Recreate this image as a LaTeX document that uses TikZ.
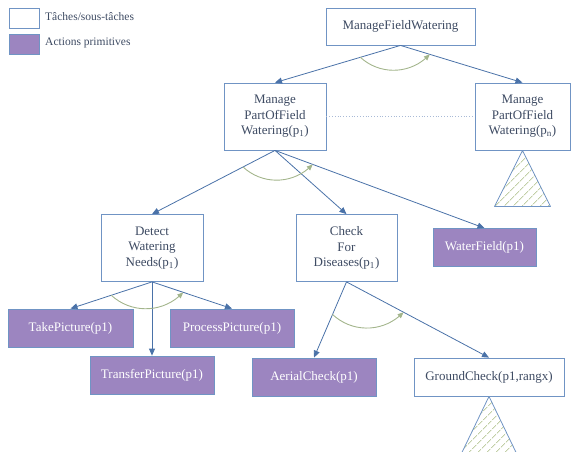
\documentclass[tikz,border=0pt]{standalone}
\usepackage{fontspec}
\setmainfont{Liberation Serif}
\usetikzlibrary{arrows.meta,patterns.meta,bending}
\definecolor{edgeblue}{HTML}{4A72A8}
\definecolor{boxline}{HTML}{7094C4}
\definecolor{primfill}{HTML}{9C85C0}
\definecolor{textdark}{HTML}{3E4B63}
\definecolor{arcgreen}{HTML}{A3B58C}
\definecolor{hatchgreen}{HTML}{C2CFA6}
\definecolor{dotline}{HTML}{A9BAD6}
\tikzset{
  task/.style={draw=boxline, fill=white, text=textdark, line width=0.8pt,
    align=center, inner sep=0pt, font=\fontsize{13}{15.5}\selectfont},
  prim/.style={draw=boxline, fill=primfill, text=white, line width=0.8pt,
    align=center, inner sep=0pt, font=\fontsize{13}{15.5}\selectfont},
  link/.style={draw=edgeblue, line width=0.8pt, -{Triangle[length=7pt,width=6pt]}},
  order/.style={draw=arcgreen, line width=0.9pt, bend right=45,
    -{Triangle[length=6pt,width=5pt,bend]}},
  legtext/.style={text=textdark, anchor=west, inner sep=0pt,
    font=\fontsize{11.5}{13}\selectfont},
  hatch/.style={pattern={Lines[angle=45,distance=6.5pt,line width=0.9pt]},
    pattern color=hatchgreen},
  subtree/.style={draw=boxline, line width=0.8pt, line join=round},
}
\begin{document}
\begin{tikzpicture}[x=1pt,y=-1pt]
\useasboundingbox (0,0) rectangle (571,451);

% legend
\node[task, minimum width=30pt, minimum height=20pt] (legT) at (24,18) {};
\node[legtext] (legTt) at (45,17) {Tâches/sous-tâches};
\node[prim, minimum width=30pt, minimum height=20pt] (legP) at (24,44) {};
\node[legtext] (legPt) at (45,43) {Actions primitives};

% tasks and sub-tasks
\node[task, minimum width=149pt, minimum height=37pt] (mfw) at (400.5,26.5) {ManageFieldWatering};
\node[task, minimum width=102pt, minimum height=67pt] (mp1) at (275,116.5)
  {Manage\\PartOfField\\Watering(p\textsubscript{1})};
\node[task, minimum width=95pt, minimum height=67pt] (mpn) at (522.5,116.5)
  {Manage\\PartOfField\\Watering(p\textsubscript{n})};
\node[task, minimum width=102pt, minimum height=67pt] (dwn) at (152,248)
  {Detect\\Watering\\Needs(p\textsubscript{1})};
\node[task, minimum width=101pt, minimum height=67pt] (cfd) at (346.5,248)
  {Check\\For\\Diseases(p\textsubscript{1})};
\node[prim, minimum width=103pt, minimum height=38pt] (wf) at (484.5,247.5) {WaterField(p1)};
\node[prim, minimum width=125pt, minimum height=38pt] (tp) at (70.5,328) {TakePicture(p1)};
\node[prim, minimum width=124pt, minimum height=38pt] (pp) at (232,328) {ProcessPicture(p1)};
\node[prim, minimum width=124pt, minimum height=38pt] (trp) at (152,375) {TransferPicture(p1)};
\node[prim, minimum width=124pt, minimum height=38pt] (ac) at (314,377) {AerialCheck(p1)};
\node[task, minimum width=150pt, minimum height=38pt] (gc) at (489,377) {GroundCheck(p1,rangx)};

% decomposition links
\draw[link] (mfw.south) -- coordinate[pos=0.32] (a1) (mp1.north);
\draw[link] (mfw.south) -- coordinate[pos=0.24] (a2) (mpn.north);
\draw[link] (mp1.south) -- coordinate[pos=0.26] (b1) (dwn.north);
\draw[link] (mp1.south) -- (cfd.north);
\draw[link] (mp1.south) -- coordinate[pos=0.18] (b2) (wf.north);
\draw[link] (dwn.south) -- coordinate[pos=0.5] (c1) (tp.north);
\draw[link] (dwn.south) -- (trp.north);
\draw[link] (dwn.south) -- coordinate[pos=0.39] (c2) (pp.north);
\draw[link] (cfd.south) -- coordinate[pos=0.43] (d1) (ac.north);
\draw[link] (cfd.south) -- coordinate[pos=0.4] (d2) (gc.north);

% ordering arcs
\draw[order] (a1) to (a2);
\draw[order] (b1) to (b2);
\draw[order] (c1) to (c2);
\draw[order] (d1) to (d2);

% dotted link between sibling tasks
\draw[dotline, line width=0.8pt, dotted] (mp1.east) -- (mpn.west);

% collapsed sub-trees
\fill[hatch] (mpn.south) -- ++(-28,56) -- ++(56,0) -- cycle;
\draw[subtree] (mpn.south) -- ++(-28,56) -- ++(56,0) -- cycle;
\fill[hatch] (gc.south) -- ++(-28,58) -- ++(56,0) -- cycle;
\draw[subtree] (gc.south) -- ++(-28,58) -- ++(56,0) -- cycle;
\end{tikzpicture}
\end{document}
